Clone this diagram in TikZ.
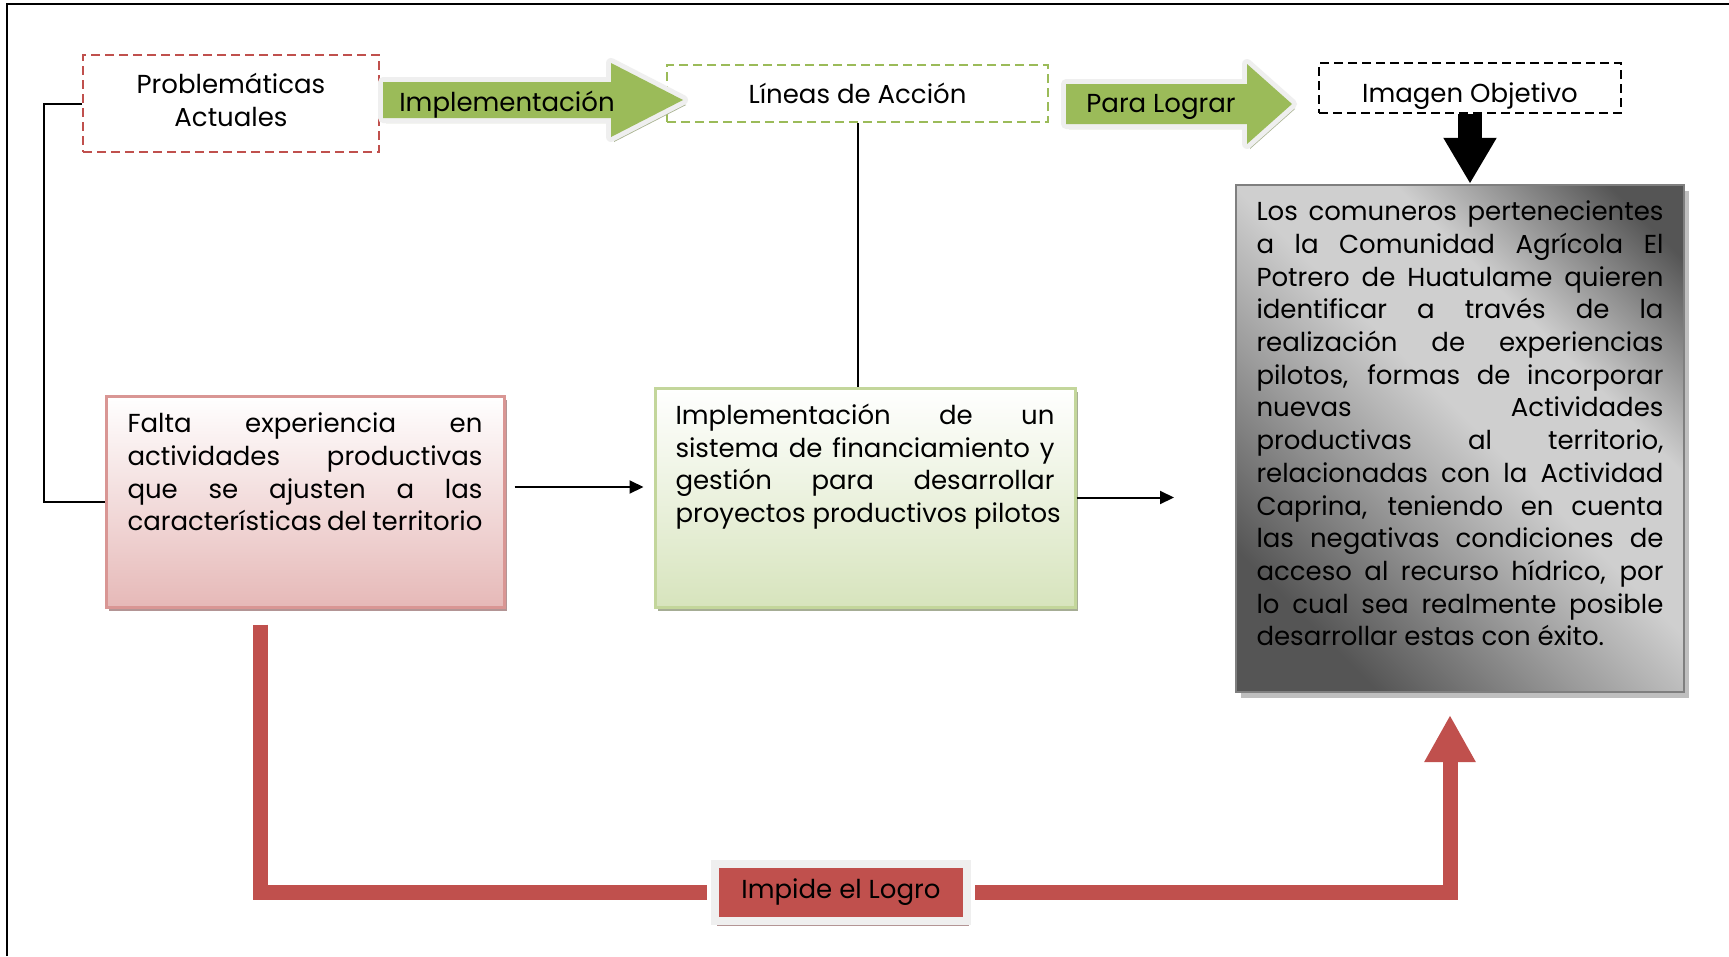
\documentclass[tikz,border=0pt]{standalone}
\usepackage{fontspec}
\setmainfont{Poppins}
\usetikzlibrary{arrows.meta,shadows,calc}
\definecolor{dred}{HTML}{C0504D}
\definecolor{dgreen}{HTML}{9BBB59}
\definecolor{pinkborder}{HTML}{D99694}
\definecolor{pinkfill}{HTML}{E6B9B8}
\definecolor{pinkshadow}{HTML}{B39595}
\definecolor{lgborder}{HTML}{C3D69B}
\definecolor{lgfill}{HTML}{D7E4BD}
\definecolor{lgshadow}{HTML}{A6AD95}
\definecolor{arrline}{HTML}{EFEFEF}
\definecolor{arshadow}{HTML}{A9B391}
\definecolor{grayborder}{HTML}{7F7F7F}
\definecolor{grayshadow}{HTML}{BFBFBF}
\definecolor{graydark}{HTML}{555555}
\definecolor{graymid}{HTML}{9A9A9A}
\definecolor{graylight}{HTML}{CFCFCF}
\pgfdeclareverticalshading{graydiag}{100bp}{color(0bp)=(graydark); color(25bp)=(graydark); color(40bp)=(graymid); color(52bp)=(graylight); color(64bp)=(graylight); color(80bp)=(graydark); color(100bp)=(graydark)}
\newcommand{\jtext}[3]{\parbox[c][#2][t]{#1}{\tolerance=10000\hyphenpenalty=10000\exhyphenpenalty=10000 #3}}
\newcommand{\garrow}[6]{%
  \begin{scope}[shift={(3,5)}]
    \fill[arshadow] (#1,#4-#5) -- (#2,#4-#5) -- (#2,#4-#6) -- (#3,#4) -- (#2,#4+#6) -- (#2,#4+#5) -- (#1,#4+#5) -- cycle;
  \end{scope}
  \draw[arrline, line width=10pt, line join=round] (#1,#4-#5) -- (#2,#4-#5) -- (#2,#4-#6) -- (#3,#4) -- (#2,#4+#6) -- (#2,#4+#5) -- (#1,#4+#5) -- cycle;
  \fill[dgreen] (#1,#4-#5) -- (#2,#4-#5) -- (#2,#4-#6) -- (#3,#4) -- (#2,#4+#6) -- (#2,#4+#5) -- (#1,#4+#5) -- cycle;
}
\tikzset{
  dbox/.style={draw, dashed, dash pattern=on 9pt off 5pt, line width=2.5pt, inner sep=0pt},
  thin/.style={draw=black, line width=2pt},
  arr/.style={thin, -{Triangle[length=14pt,width=13pt]}},
  redline/.style={draw=dred, line width=15pt, line join=miter},
}
\begin{document}
\begin{tikzpicture}[x=1pt,y=-1pt,font=\fontsize{26}{32.7}\selectfont]
\useasboundingbox (0,0) rectangle (1729,956);
\fill[white] (0,0) rectangle (1729,956);
\draw[line width=2pt] (7,956) -- (7,4) -- (1729,4);

% top row
\node[dbox, draw=dred, minimum width=296pt, minimum height=97pt] (prob) at (231,103.5)
  {\raisebox{4pt}{\begin{tabular}{@{}c@{}}Problemáticas\\Actuales\end{tabular}}};
\node[dbox, draw=dgreen, minimum width=381pt, minimum height=57pt] (lineas) at (857.5,93.5) {\raisebox{1pt}{Líneas de Acción}};
\node[dbox, draw=black, minimum width=302pt, minimum height=50pt] (img) at (1470,88) {\raisebox{-14pt}[0pt][0pt]{Imagen Objetivo}};

\garrow{383}{611}{683}{100}{18}{37}
\node (impl) at (507,105) {Implementación};
\garrow{1066}{1247}{1292}{104}{20}{40}
\node (lograr) at (1161,107) {Para Lograr};

% middle boxes
\node[draw=pinkborder, line width=3pt, inner sep=0pt, minimum width=398pt, minimum height=211pt,
      top color=white, bottom color=pinkfill,
      drop shadow={shadow xshift=3pt, shadow yshift=-4pt, fill=pinkshadow, opacity=1}] (falta) at (305,501.5)
  {\jtext{355pt}{177pt}{Falta experiencia en\linebreak actividades productivas\linebreak que se ajusten a las\linebreak características del territorio}};

\node[draw=lgborder, line width=3pt, inner sep=0pt, minimum width=420pt, minimum height=219pt,
      top color=white, bottom color=lgfill,
      drop shadow={shadow xshift=3pt, shadow yshift=-4pt, fill=lgshadow, opacity=1}] (green) at (865,497.5)
  {\jtext{379pt}{187pt}{Implementación de un\linebreak sistema de financiamiento y\linebreak gestión para desarrollar\linebreak \mbox{proyectos productivos pilotos}}};

\node[draw=grayborder, line width=2.5pt, inner sep=0pt, minimum width=448pt, minimum height=507pt,
      shading=graydiag, shading angle=-45,
      drop shadow={shadow xshift=5pt, shadow yshift=-6pt, fill=grayshadow, opacity=1}] (gray) at (1460,438.5)
  {\jtext{407pt}{475pt}{Los comuneros pertenecientes\linebreak a la Comunidad Agrícola El\linebreak Potrero de Huatulame quieren\linebreak identificar a través de la\linebreak realización de experiencias\linebreak pilotos, formas de incorporar\linebreak nuevas Actividades\linebreak productivas al territorio,\linebreak relacionadas con la Actividad\linebreak Caprina, teniendo en cuenta\linebreak las negativas condiciones de\linebreak acceso al recurso hídrico, por\linebreak lo cual sea realmente posible\linebreak desarrollar estas con éxito.}};

% bottom label
\node[fill=dred, draw=arrline, line width=8pt, inner sep=0pt, minimum width=252pt, minimum height=57pt,
      drop shadow={shadow xshift=2pt, shadow yshift=-5pt, fill=pinkshadow, opacity=1}] (impide) at (841,892.5) {Impide el Logro};

% connectors
\coordinate (ya) at (0,487);
\coordinate (gend) at (1174,497.5);
\coordinate (rtip) at (1450,715);
\draw[thin] (prob.west) -- ++(-38,0) |- (falta.west);
\draw[thin] (lineas.south) -- (lineas.south |- green.north);
\draw[arr, shorten <=9pt, shorten >=10pt] (falta.east |- ya) -- (green.west |- ya);
\draw[arr] (green.east) -- (gend);
\draw[line width=24pt, -{Triangle[length=46pt,width=50pt]}] (img.south) -- (img.south |- gray.north);
\draw[redline, shorten <=16pt, shorten >=4pt] ([xshift=-45pt]falta.south) |- (impide.west);
\draw[redline, shorten <=4pt, -{Triangle[length=47pt,width=48pt]}] (impide.east) -| (rtip);
\end{tikzpicture}
\end{document}
